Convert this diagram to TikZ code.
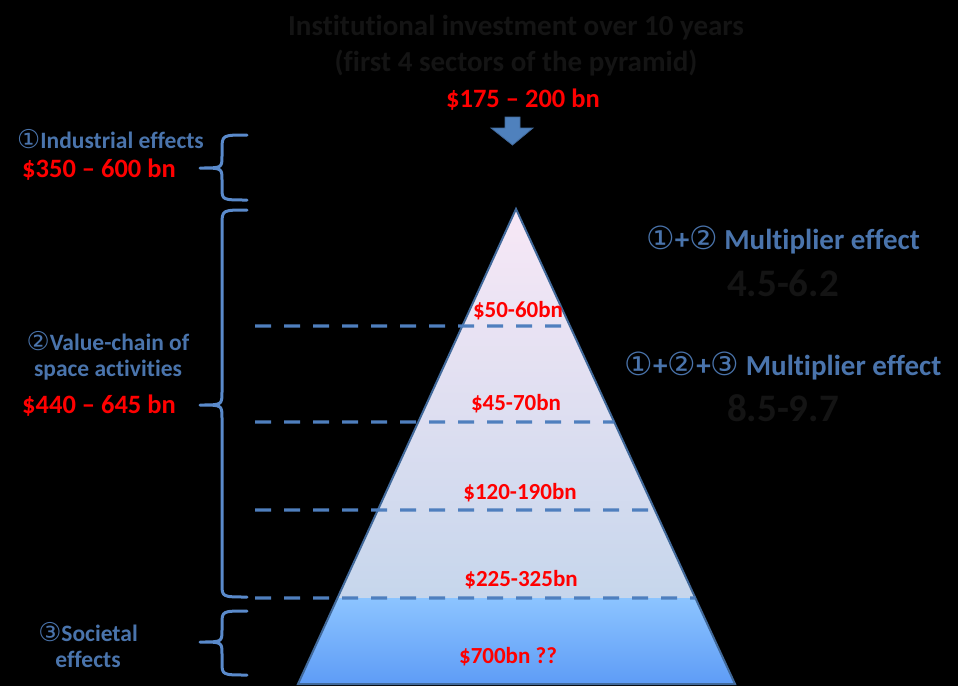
\documentclass[tikz,border=0pt]{standalone}
\usepackage{fontspec}
\setmainfont[Ligatures={TeX,NoCommon}]{Carlito}
\newfontfamily\symfont{DejaVu Sans}
\usetikzlibrary{calc}
\definecolor{bluetxt}{HTML}{4A74AC}
\definecolor{bracecol}{HTML}{5A8ACB}
\definecolor{dashcol}{HTML}{4F7FBE}
\definecolor{edgecol}{HTML}{41699A}
\definecolor{darktxt}{HTML}{141414}
\definecolor{redtxt}{HTML}{FF0000}
\definecolor{pyrtop}{HTML}{F8E8F6}
\definecolor{pyrmid}{HTML}{C6D6EC}
\definecolor{basetop}{HTML}{8CC4FF}
\definecolor{basebot}{HTML}{5E9CF6}
\definecolor{arrowfill}{HTML}{4F81BD}
\newcommand{\circd}[1]{{\symfont\mdseries\scalebox{1.1}{#1}}}
\tikzset{
  fs/.style={font=\fontsize{#1}{#1}\selectfont\bfseries},
  title/.style={fs=29, text=darktxt, inner sep=0pt},
  money/.style={fs=26.5, text=redtxt, inner sep=0pt},
  pyrlabel/.style={fs=23, text=redtxt, inner sep=0pt},
  bluelabel/.style={fs=23.5, text=bluetxt, inner sep=0pt, align=center},
  multlabel/.style={fs=29, text=bluetxt, inner sep=0pt},
  multnum/.style={fs=39, text=darktxt, inner sep=0pt},
  bracestyle/.style={draw=bracecol, line width=3pt, line cap=round, line join=round},
  dashline/.style={draw=dashcol, line width=3.2pt, dash pattern=on 16pt off 13pt},
}
\begin{document}
\begin{tikzpicture}[x=1pt,y=-1pt]
\fill[black] (0,0) rectangle (958,686);
\useasboundingbox (0,0) rectangle (958,686);

% pyramid
\coordinate (apex) at (516,209);
\coordinate (bl) at (298,684);
\coordinate (br) at (735,684);
\coordinate (ml) at ($(apex)!{389/475}!(bl)$);
\coordinate (mr) at ($(apex)!{389/475}!(br)$);
\shade[top color=pyrtop, bottom color=pyrmid] (apex) -- (mr) -- (ml) -- cycle;
\shade[top color=basetop, bottom color=basebot] (ml) -- (mr) -- (br) -- (bl) -- cycle;
\draw[edgecol, line width=2pt, line join=miter] (apex) -- (br) -- (bl) -- cycle;

% dashed lines
\coordinate (d1s) at (255,326);
\coordinate (d1e) at ($(apex)!{117/475}!(br)$);
\coordinate (d2s) at (255,422);
\coordinate (d2e) at ($(apex)!{213/475}!(br)$);
\coordinate (d3s) at (255,510);
\coordinate (d3e) at ($(apex)!{301/475}!(br)$);
\coordinate (d4s) at (255,598);
\coordinate (d4e) at ($(apex)!{389/475}!(br)$);
\draw[dashline] (d1s) -- (d1e);
\draw[dashline] (d2s) -- (d2e);
\draw[dashline] (d3s) -- (d3e);
\draw[dashline] (d4s) -- (d4e);

% pyramid labels
\node[pyrlabel] (p1) at (518,311) {\$50-60bn};
\node[pyrlabel] (p2) at (516,404) {\$45-70bn};
\node[pyrlabel] (p3) at (520,493) {\$120-190bn};
\node[pyrlabel] (p4) at (521,580) {\$225-325bn};
\node[pyrlabel] (p5) at (508,657) {\$700bn ??};

% title
\node[title] (t1) at (516,28) {Institutional investment over 10 years};
\node[title] (t2) at (516,63) {(first 4 sectors of the pyramid)};
\node[money] (inv) at (523,100) {\$175 – 200 bn};
\fill[arrowfill, draw=edgecol, line width=0.8pt]
  (505,117) -- (520,117) -- (520,128) -- (533,128) -- (512.5,145) -- (491,128) -- (505,128) -- cycle;

% braces
\draw[bracestyle] (247,135) .. controls (222,135) .. (222,150) -- (222,156)
  .. controls (222,168) .. (200,168) .. controls (222,168) .. (222,180) -- (222,188)
  .. controls (222,200) .. (247,200);
\draw[bracestyle] (247,210) .. controls (222,210) .. (222,225) -- (222,392)
  .. controls (222,405) .. (200,405) .. controls (222,405) .. (222,418) -- (222,584)
  .. controls (222,597) .. (247,597);
\draw[bracestyle] (247,611) .. controls (222,611) .. (222,624) -- (222,630)
  .. controls (222,642) .. (200,642) .. controls (222,642) .. (222,654) -- (222,662)
  .. controls (222,675) .. (247,675);

% left labels
\node[bluelabel, anchor=west] (ind) at (17,139) {\circd{①}Industrial effects};
\node[money, anchor=west] (indv) at (22,170) {\$350 – 600 bn};
\node[bluelabel] (val) at (108,356) {\circd{②}Value-chain of\\[2pt]space activities};
\node[money, anchor=west] (valv) at (22,406) {\$440 – 645 bn};
\node[bluelabel] (soc) at (88,645) {\circd{③}Societal\\[2pt]effects};

% right labels
\node[multlabel] (m1) at (783,240) {\circd{①}+\circd{②} Multiplier effect};
\node[multnum] (n1) at (783,283) {4.5-6.2};
\node[multlabel] (m2) at (783,366) {\circd{①}+\circd{②}+\circd{③} Multiplier effect};
\node[multnum] (n2) at (783,408) {8.5-9.7};
\end{tikzpicture}
\end{document}
